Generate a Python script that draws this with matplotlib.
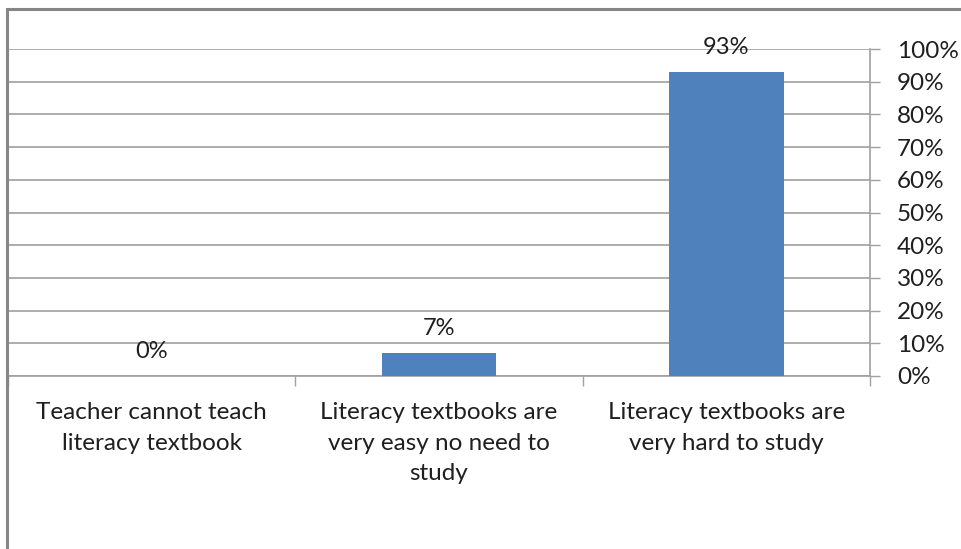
import matplotlib.pyplot as plt
from matplotlib.patches import Rectangle
import numpy as np

plt.rcParams['font.family'] = ['Lato', 'DejaVu Sans']

categories = ["Teacher cannot teach\nliteracy textbook",
              "Literacy textbooks are\nvery easy no need to\nstudy",
              "Literacy textbooks are\nvery hard to study"]
values = [0, 7, 93]
y_ticks = [0, 10, 20, 30, 40, 50, 60, 70, 80, 90, 100]

W, H = 962, 549
fig = plt.figure(figsize=(W / 100, H / 100), dpi=100)
ax = fig.add_axes([8 / W, (H - 376) / H, (870 - 8) / W, (376 - 49) / H])

grid_col = '#a0a0a0'
text_col = '#1f1f1f'
x = np.arange(len(categories))
ax.bar(x, values, width=0.4, color='#4f81bd', zorder=3)

for xi, v in zip(x, values):
    ax.text(xi, v + 7.5, f"{v}%", ha='center', va='center', fontsize=17, color=text_col)

ax.set_xlim(-0.5, len(categories) - 0.5)
ax.set_ylim(0, 100)
ax.yaxis.tick_right()
ax.set_yticks(y_ticks)
ax.set_yticklabels([f"{t}%" for t in y_ticks], fontsize=17.5, color=text_col)
ax.tick_params(axis='y', length=7, width=1, color=grid_col, pad=12.5)
ax.grid(axis='y', color=grid_col, linewidth=1.2, zorder=0)

# category boundaries as ticks, labels centered between them
ax.set_xticks(np.arange(-0.5, len(categories), 1.0))
ax.set_xticklabels([])
ax.set_xticks(x, minor=True)
ax.set_xticklabels(categories, minor=True, fontsize=17.5, color=text_col, linespacing=1.55)
ax.tick_params(axis='x', which='major', length=7, width=1, color=grid_col)
ax.tick_params(axis='x', which='minor', length=0, pad=19)

for side in ['top', 'left']:
    ax.spines[side].set_visible(False)
ax.spines['right'].set_color(grid_col)
ax.spines['bottom'].set_color(grid_col)
ax.spines['right'].set_linewidth(1.2)
ax.spines['bottom'].set_linewidth(1.2)

# outer chart frame
fig.patches.append(Rectangle((7 / W, -0.2), 1.2, 1.2 - 9 / H, transform=fig.transFigure,
                             fill=False, edgecolor='#868686', linewidth=2.2))

fig.savefig('out.png', dpi=100)
